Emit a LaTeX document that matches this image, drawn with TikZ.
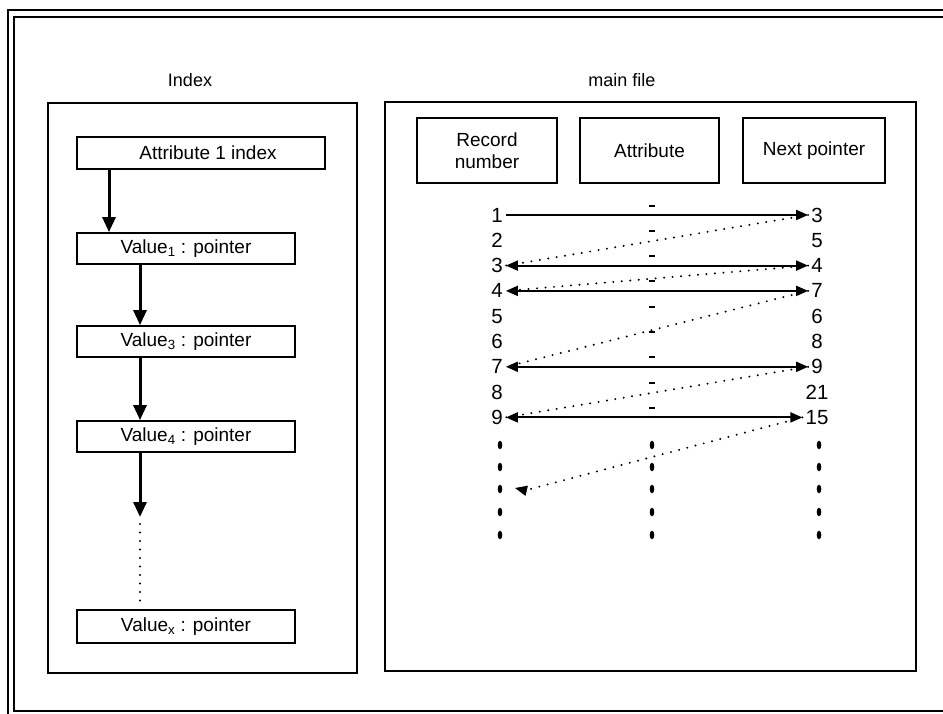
\documentclass[tikz,border=0pt]{standalone}
\usepackage{fontspec}
\setmainfont{Liberation Sans}
\usetikzlibrary{arrows.meta}
\begin{document}
\begin{tikzpicture}[x=1pt,y=-1pt,
  font=\fontsize{19}{21}\selectfont,
  frameline/.style={line width=2pt},
  panel/.style={draw,line width=1.8pt},
  box/.style={draw,line width=1.8pt,inner sep=0pt},
  title/.style={font=\fontsize{18}{20}\selectfont},
  num/.style={inner sep=3pt,font=\fontsize{20.5}{22}\selectfont},
  thickarrow/.style={line width=3pt,-{Triangle[width=13pt,length=15pt]}},
  link/.style={line width=2pt,-{Triangle[width=10pt,length=12pt]}},
  dlink/.style={line width=2pt,{Triangle[width=10pt,length=12pt]}-{Triangle[width=10pt,length=12pt]}},
  dotline/.style={line width=2.2pt,line cap=round,dash pattern=on 0pt off 8.5pt},
  tailtip/.style={-{Triangle[width=10pt,length=12pt]}},
  vdot/.style={fill=black}
]
\useasboundingbox[fill=white] (0,0) rectangle (943,713);
% frame
\draw[frameline] (945,10) -- (8,10) -- (8,715);
\draw[frameline] (945,17) -- (14,17) -- (14,711) -- (945,711);
% titles
\node[title] (tindex) at (190,80) {Index};
\node[title] (tmain) at (622,80) {main file};
% panels
\draw[panel] (48,103) rectangle (357,673);
\draw[panel] (385,102) rectangle (916,671);
% index chain
\node[box,minimum width=248pt,minimum height=32pt] (a1) at (201,153) {\hspace*{14pt}Attribute 1 index};
\node[box,minimum width=218pt,minimum height=31pt] (v1) at (186,248.5) {Value\textsubscript{1} : pointer};
\node[box,minimum width=218pt,minimum height=31pt] (v3) at (186,341.5) {Value\textsubscript{3} : pointer};
\node[box,minimum width=218pt,minimum height=31pt] (v4) at (186,436.5) {Value\textsubscript{4} : pointer};
\node[box,minimum width=218pt,minimum height=33pt] (vx) at (186,626.5) {Value\textsubscript{x} : pointer};
\coordinate (colA) at (109,0);
\coordinate (colB) at (140,0);
\coordinate (vend) at (140,517);
\coordinate (dstart) at (140,524);
\draw[thickarrow] (a1.south -| colA) -- (v1.north -| colA);
\draw[thickarrow] (v1.south -| colB) -- (v3.north -| colB);
\draw[thickarrow] (v3.south -| colB) -- (v4.north -| colB);
\draw[thickarrow] (v4.south -| colB) -- (vend);
\draw[dotline] (dstart) -- ([yshift=4pt]vx.north -| colB);
% main file headers
\node[box,minimum width=140pt,minimum height=65pt,align=center,font=\fontsize{19}{22}\selectfont] (hrec) at (487,150.5) {Record\\number};
\node[box,minimum width=139pt,minimum height=65pt] (hatt) at (649.5,150.5) {Attribute};
\node[box,minimum width=142pt,minimum height=65pt] (hnext) at (814,150.5) {Next pointer};
% rows
\foreach \i/\r in {1/3,2/5,3/4,4/7,5/6,6/8,7/9,8/21,9/15}{
  \node[num] (L\i) at (497,{215+(\i-1)*25.3}) {\i};
  \node[num] (R\i) at (817,{215+(\i-1)*25.3}) {\r};
  \draw[line width=2pt] (649,{205.5+(\i-1)*25.3}) -- (655,{205.5+(\i-1)*25.3});
}
\draw[link] (L1) -- (R1);
\foreach \i in {3,4,7,9}{\draw[dlink] (L\i) -- (R\i);}
\draw[dotline] (R1.west) -- (L3.east);
\draw[dotline] (R3.west) -- (L4.east);
\draw[dotline] (R4.west) -- (L7.east);
\draw[dotline] (R7.west) -- (L9.east);
\coordinate (tail) at (515,488);
\draw[dotline] (R9.west) -- ([xshift=10pt,yshift=-2.4pt]tail);
\draw[tailtip,line width=1.5pt] ([xshift=11pt,yshift=-2.6pt]tail) -- (tail);
% continuation dots
\foreach \x in {500,652,819}{
  \foreach \y in {445,467,489,512,535}{
    \fill[vdot] (\x,\y) ellipse [x radius=2.3pt,y radius=4.3pt];
  }
}
\end{tikzpicture}
\end{document}
